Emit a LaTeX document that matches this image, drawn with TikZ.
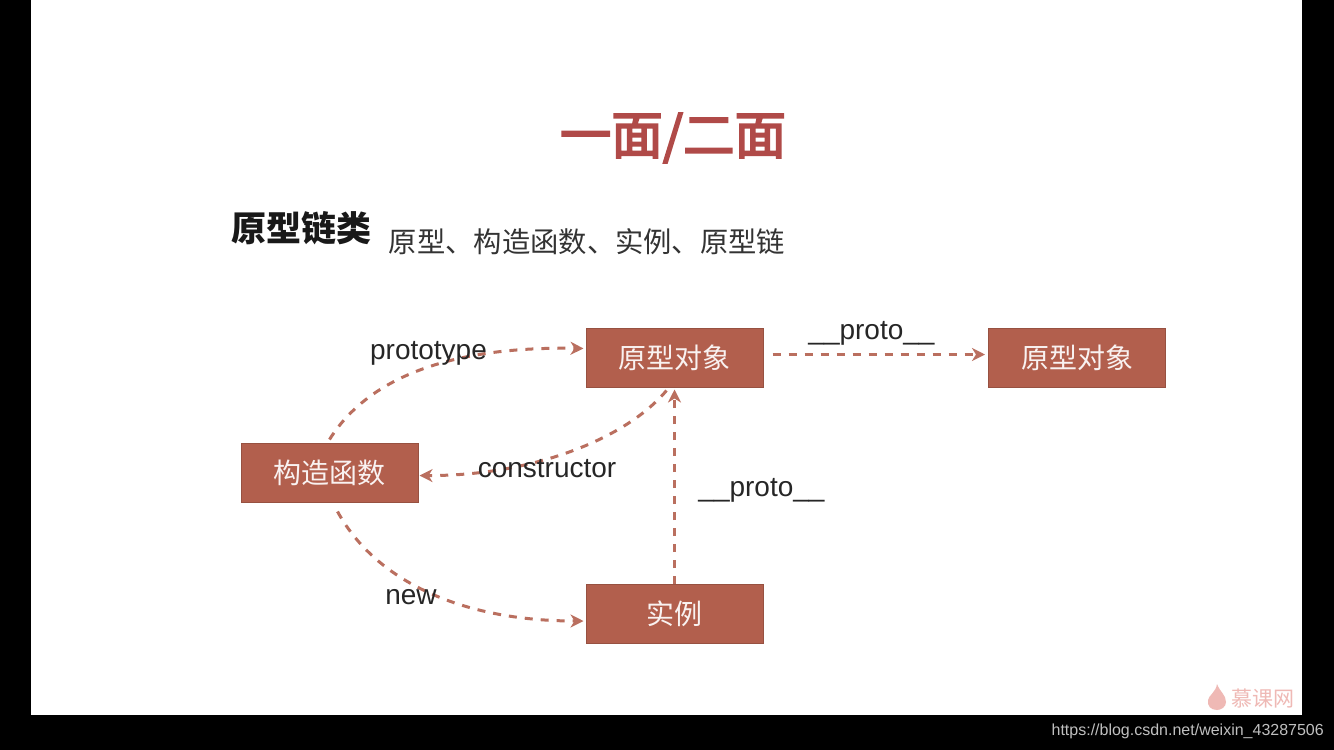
\documentclass[tikz,border=0pt]{standalone}
\usepackage{fontspec}
\usetikzlibrary{arrows.meta}
\setmainfont{Liberation Sans}
\newfontfamily\cjk{Noto Sans CJK SC}
\newfontfamily\cjktitle[FakeBold=3.5]{Noto Sans CJK SC}
\definecolor{boxred}{HTML}{B25F4D}
\definecolor{titlered}{HTML}{B04A48}
\definecolor{markpink}{HTML}{EFB9B5}
\tikzset{
	objbox/.style={rectangle,draw=boxred!85!black,line width=1pt,fill=boxred,text=white!92!boxred,minimum width=177pt,minimum height=59pt,inner sep=0pt,font=\cjk\fontsize{28}{28}\selectfont},
	dashlink/.style={draw=boxred!90,line width=3pt,dash pattern=on 8pt off 8pt,-{Stealth[length=13pt,width=13pt,inset=4pt]}},
	linklabel/.style={inner sep=0pt,text=black!85,font=\fontsize{28}{28}\selectfont}
}
\begin{document}
\begin{tikzpicture}[x=1pt,y=-1pt]
		\useasboundingbox (0,0) rectangle (1334,750);
		\fill[black] (0,0) rectangle (1334,750);
		\fill[white] (31,-1) rectangle (1302,715);
		\path (673,138) node(title) [text=titlered,font=\cjktitle\fontsize{51.5}{52}\selectfont] {一面/二面};
		\path (301,228) node(topic) [text=black!90,font=\cjk\bfseries\fontsize{35}{35}\selectfont] {原型链类};
		\path (587,242) node(keywords) [text=black!80,font=\cjk\fontsize{28.3}{28}\selectfont] {原型、构造函数、实例、原型链};

		\path (674.5,357.5) node(protoobj) [objbox] {原型对象};
		\path (1077,357.5) node(parentobj) [objbox] {原型对象};
		\path (329.5,472.5) node(ctor) [objbox] {构造函数};
		\path (674.5,614) node(inst) [objbox] {实例};

		\draw[dashlink] ([shift={(0,-3)}]ctor.north) .. controls (368,378) and (450,346) .. ([shift={(-2,-9)}]protoobj.west);
		\draw[dashlink] ([shift={(-8,3)}]protoobj.south) .. controls (625,440) and (530,476) .. ([shift={(1,3)}]ctor.east);
		\draw[dashlink] ([shift={(8,9)}]ctor.south) .. controls (375,580) and (460,621) .. ([shift={(-2,7)}]inst.west);
		\draw[dashlink] (inst.north) -- ([shift={(0,2)}]protoobj.south);
		\draw[dashlink] ([shift={(9,-3)}]protoobj.east) -- ([shift={(-3,-3)}]parentobj.west);

		\path (428.5,353) node(prototype) [linklabel] {prototype};
		\path (547,469) node(constructor) [linklabel] {constructor};
		\path (411,597) node(newop) [linklabel] {new};
		\path (871.5,333) node(protoa) [linklabel] {\_\_proto\_\_};
		\path (761.5,490) node(protob) [linklabel] {\_\_proto\_\_};

		\fill[markpink] (1217,684) .. controls (1220,692) and (1226,695) .. (1226,702) .. controls (1226,707) and (1221,710) .. (1217,710) .. controls (1211,710) and (1207,706) .. (1208,700) .. controls (1209,695) and (1216,692) .. (1217,684) -- cycle;
		\path (1263,699) node(brand) [text=markpink,font=\cjk\fontsize{21}{21}\selectfont] {慕课网};
		\path (1324,731) node(source) [anchor=east,inner sep=0pt,text=black!25,font=\fontsize{16}{16}\selectfont] {https://blog.csdn.net/weixin\_43287506};
	\end{tikzpicture}
\end{document}
